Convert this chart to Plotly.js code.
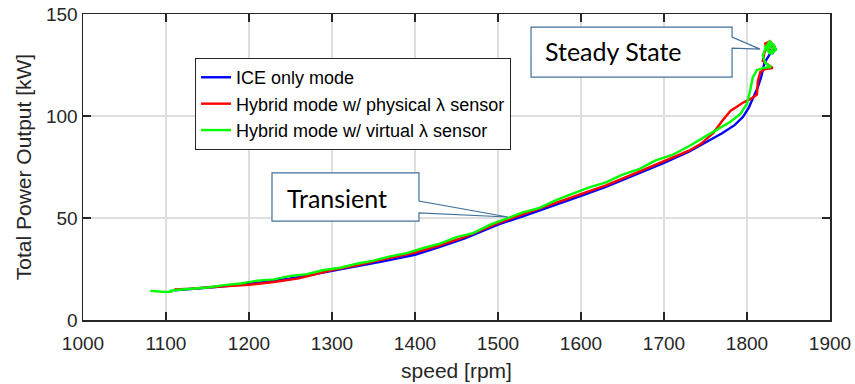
<!DOCTYPE html>
<html>
<head>
<meta charset="utf-8">
<script src="https://cdn.plot.ly/plotly-3.0.1.min.js"></script>
<style>
html,body{margin:0;padding:0;background:#fff;}
#chart{width:855px;height:384px;}
</style>
</head>
<body>
<div id="chart"></div>
<script>
// ---- data ----
const seriesNames = ["ICE only mode", "Hybrid mode w/ physical \u03bb sensor", "Hybrid mode w/ virtual \u03bb sensor"];

const iceSpeed = [1110,1130,1160,1200,1230,1260,1300,1330,1360,1400,1430,1460,1500,1530,1560,1600,1630,1660,1700,1730,1750,1770,1785,1795,1802,1808,1813,1817,1819,1821,1824,1827,1830,1833,1829,1826,1831,1834,1830];
const icePower = [14.6,15.2,16.2,17.8,19.2,21.0,24.0,26.0,28.6,32.0,35.8,40.0,46.8,50.8,55.0,60.8,65.3,70.3,77.0,82.5,87.0,91.5,95.5,99.5,104,109,114,119,123,126,128,130,132,134,135,133,131,133,134];

const physSpeed = [1110,1130,1160,1200,1230,1260,1300,1330,1360,1400,1430,1460,1500,1530,1560,1600,1630,1660,1700,1730,1745,1760,1770,1780,1795,1805,1812,1813,1816,1822,1831,1826,1819,1821,1825,1829,1833,1830,1824,1822,1827,1832,1829];
const physPower = [15.0,15.3,16.3,17.3,18.6,20.4,24.5,26.8,29.6,33.0,36.6,40.8,47.5,51.8,55.8,61.5,66.0,71.0,78.0,83.0,86.5,92.0,97.5,102.5,106.5,108.5,110.5,117.0,121.5,123.0,123.5,125.0,127.0,131.0,134.5,136.0,134.0,132.0,133.0,135.5,136.5,133.5,132.0];

const virtSpeed = [1081,1090,1100,1108,1104,1115,1130,1150,1170,1190,1210,1230,1250,1270,1290,1310,1330,1350,1370,1390,1410,1430,1450,1470,1490,1510,1530,1550,1570,1590,1610,1630,1650,1670,1690,1710,1730,1750,1765,1780,1792,1800,1804,1807,1812,1820,1829,1822,1819,1822,1826,1832,1835,1829,1824,1828,1833,1827,1822,1830,1826];
const virtPower = [14.3,14.0,13.7,13.9,14.3,14.8,15.4,15.9,17.1,17.9,19.3,19.9,21.6,22.5,24.5,25.6,27.6,29.1,31.2,32.8,35.3,37.4,40.6,42.6,46.6,49.6,52.8,55.0,58.8,61.9,65.0,67.5,71.3,74.0,78.2,80.9,85.2,90.0,93.6,97.2,101.0,106.0,113.0,119.0,122.5,123.6,124.0,126.0,129.5,133.0,136.0,135.0,132.5,130.5,133.0,136.5,134.0,131.0,134.0,135.0,133.0];

const xTickVals = [1000,1100,1200,1300,1400,1500,1600,1700,1800,1900];
const yTickVals = [0,50,100,150];

const axisTitleX = "speed [rpm]";
const axisTitleY = "Total Power Output [kW]";
const calloutSteady = "Steady State";
const calloutTransient = "Transient";

// ---- chart ----
const colors = ["#0000ff", "#ff0000", "#00ff00"];
const traces = [
  {x: iceSpeed, y: icePower, name: seriesNames[0]},
  {x: physSpeed, y: physPower, name: seriesNames[1]},
  {x: virtSpeed, y: virtPower, name: seriesNames[2]}
].map((t, i) => Object.assign(t, {
  type: "scatter", mode: "lines",
  line: {color: colors[i], width: 2.4},
  legendgroup: "g" + i
}));

const axisCommon = {
  showline: true, linecolor: "#262626", linewidth: 1.5, mirror: "ticks",
  ticks: "inside", ticklen: 8, tickwidth: 1.5, tickcolor: "#262626",
  showgrid: true, gridcolor: "#dedede", gridwidth: 1.5,
  zeroline: false,
  tickfont: {family: "Liberation Sans, Arial, sans-serif", size: 19, color: "#262626"}
};

const boxLine = {color: "#41719c", width: 1.2};
const shapes = [
  {type: "path", xref: "x", yref: "y", layer: "above", fillcolor: "#ffffff", line: boxLine,
   path: "M1539.8,143.6 L1782,143.6 L1782,138.7 L1815.7,132.8 L1782,133.3 L1782,119.1 L1539.8,119.1 Z"},
  {type: "path", xref: "x", yref: "y", layer: "above", fillcolor: "#ffffff", line: boxLine,
   path: "M1227.7,72.1 L1404.8,72.1 L1404.8,58.3 L1512,50.5 L1404.8,52.5 L1404.8,48.5 L1227.7,48.5 Z"}
];

const calloutFont = {family: "Lato, 'Open Sans', sans-serif", size: 25, color: "#000000"};
const annotations = [
  {xref: "x", yref: "y", x: 1554, y: 131.9, text: calloutSteady, showarrow: false, xanchor: "left", yanchor: "middle", font: calloutFont},
  {xref: "x", yref: "y", x: 1243, y: 59.8, text: calloutTransient, showarrow: false, xanchor: "left", yanchor: "middle", font: calloutFont}
];

const layout = {
  width: 855, height: 384,
  margin: {l: 83, r: 25, t: 14, b: 64, pad: 0},
  paper_bgcolor: "#ffffff", plot_bgcolor: "#ffffff",
  showlegend: true,
  legend: {
    x: 0.15, y: 0.856, xanchor: "left", yanchor: "top",
    bgcolor: "#ffffff", bordercolor: "#262626", borderwidth: 1,
    font: {family: "Liberation Sans, Arial, sans-serif", size: 18, color: "#000000"},
    tracegroupgap: 0, traceorder: "normal"
  },
  xaxis: Object.assign({}, axisCommon, {
    range: [1000, 1900], tickvals: xTickVals, ticktext: xTickVals.map(String),
    ticklabelstandoff: 6,
    title: {text: axisTitleX, standoff: 10, font: {family: "Liberation Sans, Arial, sans-serif", size: 21, color: "#262626"}}
  }),
  yaxis: Object.assign({}, axisCommon, {
    range: [0, 150], tickvals: yTickVals, ticktext: yTickVals.map(String),
    title: {text: axisTitleY, standoff: 8, font: {family: "Liberation Sans, Arial, sans-serif", size: 21, color: "#262626"}}
  }),
  shapes: shapes,
  annotations: annotations
};

Plotly.newPlot("chart", traces, layout, {displayModeBar: false, staticPlot: true});
</script>
</body>
</html>
